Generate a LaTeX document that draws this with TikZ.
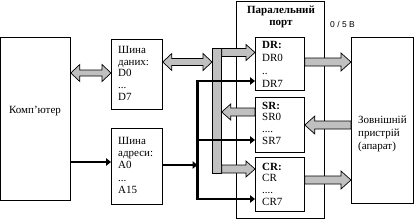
\documentclass[tikz,border=0pt]{standalone}
\usepackage{fontspec}
\setmainfont{Liberation Serif}
\newfontfamily\labsans{Liberation Sans}
\usetikzlibrary{arrows.meta,calc}
\definecolor{busgray}{HTML}{C0C0C0}
\tikzset{
  box/.style={draw, line width=0.8pt, fill=white, anchor=north west, inner sep=0pt},
  portbox/.style={draw, line width=0.8pt, anchor=north west, inner sep=0pt},
  garrow/.style={draw, fill=busgray, line width=0.7pt, line join=miter},
  blackline/.style={line width=2.6pt, line join=miter},
  barrow/.style={blackline, -{Triangle[length=5pt,width=7.5pt]}},
  txt/.style={inner sep=0pt, anchor=north west, align=left},
}
% single gray arrow: tail anchor, tip anchor, y, sign (- right, + left), half shaft, half head, head length
\newcommand\garr[7]{\path[garrow] let \p1=(#1),\p2=(#2),\p3=(0,#3) in
  (\x1,\y3+#5pt) -- (\x2#4#7pt,\y3+#5pt) -- (\x2#4#7pt,\y3+#6pt) -- (\x2,\y3)
  -- (\x2#4#7pt,\y3-#6pt) -- (\x2#4#7pt,\y3-#5pt) -- (\x1,\y3-#5pt) -- cycle;}
% double gray arrow: left anchor, right anchor, y, half shaft, half head, head length
\newcommand\gdarr[6]{\path[garrow] let \p1=(#1),\p2=(#2),\p3=(0,#3) in
  (\x1,\y3) -- (\x1+#6pt,\y3+#5pt) -- (\x1+#6pt,\y3+#4pt) -- (\x2-#6pt,\y3+#4pt)
  -- (\x2-#6pt,\y3+#5pt) -- (\x2,\y3) -- (\x2-#6pt,\y3-#5pt) -- (\x2-#6pt,\y3-#4pt)
  -- (\x1+#6pt,\y3-#4pt) -- (\x1+#6pt,\y3-#5pt) -- cycle;}
\begin{document}
\begin{tikzpicture}[x=1pt,y=-1pt]
\fill[white] (0,0) rectangle (416,220);
\useasboundingbox (0,0) rectangle (416,220);

% boxes
\node[portbox, minimum width=88pt, minimum height=217.5pt] (port) at (236,0.5) {};
\node[box, minimum width=69.5pt, minimum height=163pt] (comp) at (0.5,37) {};
\node[box, minimum width=51pt, minimum height=70pt] (data) at (111,39) {};
\node[box, minimum width=51pt, minimum height=76pt] (addr) at (111,128) {};
\node[box, minimum width=49pt, minimum height=53pt] (dr) at (255,37) {};
\node[box, minimum width=49pt, minimum height=55pt] (sr) at (255,97) {};
\node[box, minimum width=49pt, minimum height=54pt] (cr) at (255,157) {};
\node[box, minimum width=62pt, minimum height=166pt] (ext) at (351,37) {};
\node[draw, fill=busgray, line width=0.7pt, anchor=north west, inner sep=0pt,
      minimum width=9pt, minimum height=125pt] (bar) at (212,48) {};

% gray bus arrows
\gdarr{comp.east}{data.west}{73}{3}{8.5}{9}
\gdarr{data.east}{bar.west}{62}{3.5}{8.5}{9}
\garr{bar.east}{dr.west}{52.5}{-}{4}{8}{9}
\garr{sr.west}{bar.east}{112}{+}{4}{8}{9}
\garr{bar.east}{cr.west}{169}{-}{4}{8}{9}
\garr{dr.east}{ext.west}{62}{-}{4}{9}{10}
\garr{ext.west}{sr.east}{125}{+}{4}{9}{10}
\garr{cr.east}{ext.west}{180}{-}{4}{9}{10}

% black address lines
\coordinate (vt) at (197.5,81);
\coordinate (vb) at (197.5,199);
\coordinate (vs) at (197.5,140);
\coordinate (va) at (197.5,165);
\coordinate (ca) at (0,162);
\draw[barrow] (vb) -- (vt) -- (vt -| dr.west);
\draw[barrow] (vt) -- (vb) -- (vb -| cr.west);
\draw[barrow] (vs) -- (vs -| sr.west);
\draw[barrow] (ca -| comp.east) -- (ca -| addr.west);
\draw[barrow] (va -| addr.east) -- (va);

% texts
\node[inner sep=0pt, anchor=base, font=\fontsize{11}{12}\selectfont] (tcomp) at (35,113.5) {Комп’ютер};
\node[txt, font=\fontsize{11}{11.75}\selectfont] (tdata) at (118,46) {Шина\\даних:\\D0\\...\\D7};
\node[txt, font=\fontsize{11}{12.2}\selectfont] (taddr) at (118,137) {Шина\\адреси:\\A0\\...\\A15};
\node[txt, font=\fontsize{11}{13}\selectfont] (tdr) at (262,41) {\textbf{DR:}\\DR0\\..\\DR7};
\node[txt, font=\fontsize{11}{11.8}\selectfont] (tsr) at (262,101.7) {\textbf{SR:}\\SR0\\....\\SR7};
\node[txt, font=\fontsize{11}{11.7}\selectfont] (tcr) at (262,162.7) {\textbf{CR:}\\CR\\....\\CR7};
\node[txt, font=\fontsize{11}{13}\selectfont] (text) at (358,116) {Зовнішній\\пристрій\\(апарат)};
\node[inner sep=0pt, anchor=north, align=center, font=\fontsize{11}{12}\selectfont\bfseries] (tport) at (281,6.2) {Паралельний\\порт};
\node[inner sep=0pt, anchor=base west, font=\labsans\fontsize{8.5}{9}\selectfont] (tv) at (330,27.5) {0 / 5 B};
\end{tikzpicture}
\end{document}
